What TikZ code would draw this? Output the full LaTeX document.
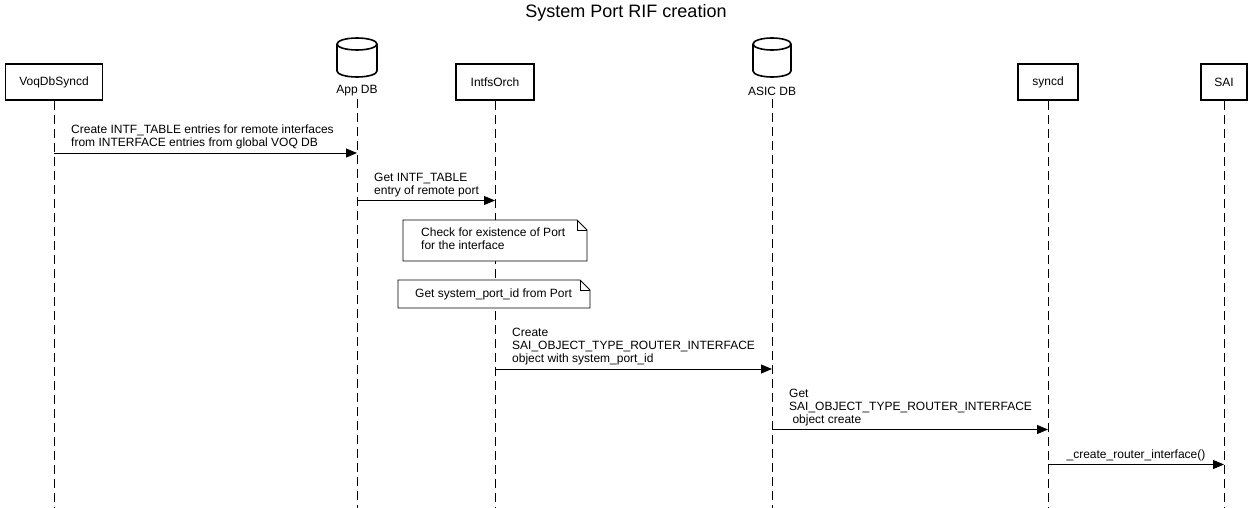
\documentclass[tikz,border=0pt]{standalone}
\usepackage{fontspec}
\setmainfont{Liberation Sans}
\usetikzlibrary{arrows.meta}
\tikzset{
  lbl/.style={font=\fontsize{12}{13}\selectfont, inner sep=0pt, align=left},
  partbox/.style={draw, line width=1.6pt, minimum height=36pt, inner sep=0pt, font=\fontsize{12}{13}\selectfont},
  cyl/.style={draw, line width=1.6pt, line join=round},
  lifeline/.style={line width=0.9pt, dash pattern=on 9pt off 5pt},
  msg/.style={line width=0.9pt, -{Triangle[length=11pt,width=9pt]}},
  notebox/.style={draw, line width=0.9pt, fill=white}
}
\begin{document}
\begin{tikzpicture}[x=1pt,y=-1pt]
\useasboundingbox[fill=white] (0,0) rectangle (1252,508);
\node[font=\fontsize{18}{20}\selectfont, inner sep=0pt] (title) at (626,13) {System Port RIF creation};

% participants
\node[partbox, minimum width=97pt] (voq) at (54,82) {VoqDbSyncd};
\coordinate (appdb) at (357,57.5);
\begin{scope}[shift={(appdb)}, x=1pt, y=1pt]
  \draw[cyl] (-20,13.5) -- (-20,-13.5) arc[start angle=180,end angle=360,x radius=20,y radius=6] -- (20,13.5) arc[start angle=0,end angle=180,x radius=20,y radius=6] -- cycle;
  \draw[cyl] (-20,13.5) arc[start angle=180,end angle=360,x radius=20,y radius=6];
\end{scope}
\node[lbl] (appdbl) at (357,91) {App DB};
\node[partbox, minimum width=78pt] (intfs) at (495,82) {IntfsOrch};
\coordinate (asicdb) at (772,57.5);
\begin{scope}[shift={(asicdb)}, x=1pt, y=1pt]
  \draw[cyl] (-19,13.5) -- (-19,-13.5) arc[start angle=180,end angle=360,x radius=19,y radius=6] -- (19,13.5) arc[start angle=0,end angle=180,x radius=19,y radius=6] -- cycle;
  \draw[cyl] (-19,13.5) arc[start angle=180,end angle=360,x radius=19,y radius=6];
\end{scope}
\node[lbl] (asicdbl) at (772,91) {ASIC DB};
\node[partbox, minimum width=60pt] (syncd) at (1048,82) {syncd};
\node[partbox, minimum width=46pt] (sai) at (1224,82) {SAI};

% lifeline ends
\coordinate (bot) at (0,508);
\coordinate (appdbtop) at (357,99);
\coordinate (asicdbtop) at (772,99);
\draw[lifeline] (voq.south) -- (voq.south |- bot);
\draw[lifeline] (appdbtop) -- (appdbtop |- bot);
\draw[lifeline] (intfs.south) -- (intfs.south |- bot);
\draw[lifeline] (asicdbtop) -- (asicdbtop |- bot);
\draw[lifeline] (syncd.south) -- (syncd.south |- bot);
\draw[lifeline] (sai.south) -- (sai.south |- bot);

% message 1
\coordinate (m1s) at (54,153);
\coordinate (m1e) at (357,153);
\draw[msg] (m1s) -- (m1e);
\node[lbl, anchor=south west] (m1l) at (71,149.5) {Create INTF\_TABLE entries for remote interfaces\\from INTERFACE entries from global VOQ DB};

% message 2
\coordinate (m2s) at (357,200.5);
\coordinate (m2e) at (495,200.5);
\draw[msg] (m2s) -- (m2e);
\node[lbl, anchor=south west] (m2l) at (374,197) {Get INTF\_TABLE\\entry of remote port};

% note 1
\draw[notebox] (403,220) -- (577,220) -- (587,230) -- (587,261) -- (403,261) -- cycle;
\draw[line width=0.9pt] (577,220) -- (577,230) -- (587,230);
\node[lbl, anchor=north west] (n1) at (421,228) {Check for existence of Port\\for the interface};

% note 2
\draw[notebox] (398,280) -- (580,280) -- (590,290) -- (590,308) -- (398,308) -- cycle;
\draw[line width=0.9pt] (580,280) -- (580,290) -- (590,290);
\node[lbl, anchor=west] (n2) at (415,294) {Get system\_port\_id from Port};

% message 3
\coordinate (m3s) at (495,369);
\coordinate (m3e) at (772,369);
\draw[msg] (m3s) -- (m3e);
\node[lbl, anchor=south west] (m3l) at (512,365.5) {Create\\SAI\_OBJECT\_TYPE\_ROUTER\_INTERFACE\\object with system\_port\_id};

% message 4
\coordinate (m4s) at (772,429.5);
\coordinate (m4e) at (1048,429.5);
\draw[msg] (m4s) -- (m4e);
\node[lbl, anchor=south west] (m4l) at (789,426) {Get\\SAI\_OBJECT\_TYPE\_ROUTER\_INTERFACE\\\ object create};

% message 5
\coordinate (m5s) at (1048,464.5);
\coordinate (m5e) at (1224,464.5);
\draw[msg] (m5s) -- (m5e);
\node[lbl, anchor=south] (m5l) at (1136,461) {\_create\_router\_interface()};
\end{tikzpicture}
\end{document}
